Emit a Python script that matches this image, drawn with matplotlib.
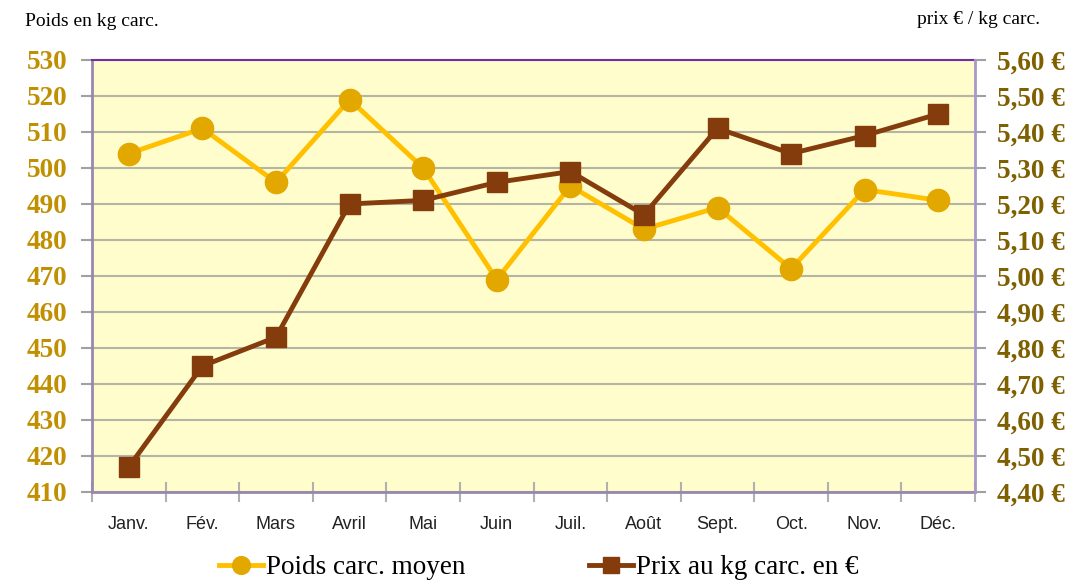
import numpy as np
import matplotlib.pyplot as plt
from matplotlib.ticker import FuncFormatter, MultipleLocator

# data
months = ['Janv.', 'Fév.', 'Mars', 'Avril', 'Mai', 'Juin',
          'Juil.', 'Août', 'Sept.', 'Oct.', 'Nov.', 'Déc.']
poids = [504, 511, 496, 519, 500, 469, 495, 483, 489, 472, 494, 491]
prix = [4.47, 4.75, 4.83, 5.20, 5.21, 5.26, 5.29, 5.17, 5.41, 5.34, 5.39, 5.45]

serif = ['Liberation Serif', 'DejaVu Serif']
narrow = ['Liberation Sans Narrow', 'Liberation Sans', 'DejaVu Sans']

fig = plt.figure(figsize=(10.84, 5.85), dpi=100)
ax = fig.add_axes([0.0849, 0.159, 0.8146, 0.7385])
ax.set_facecolor('#FFFDCC')

x = np.arange(len(months))

# left axis: weight
ax.plot(x, poids, color='#FFC000', lw=3.5, marker='o', ms=16,
        mfc='#E3A800', mec='#E3A800', zorder=3, label='Poids carc. moyen')
ax.set_ylim(410, 530)
ax.set_xlim(-0.5, 11.5)
ax.yaxis.set_major_locator(MultipleLocator(10))
ax.grid(axis='y', color='#B5B5A5', lw=1.5)
ax.set_axisbelow(True)
ax.tick_params(axis='y', direction='out', length=8, width=1.5, color='#A0A0A0',
               labelcolor='#C09000', pad=10)
for t in ax.get_yticklabels():
    t.set_family(serif)
    t.set_fontweight('bold')
    t.set_fontsize(19.5)

# categories with ticks between months
ax.set_xticks(x)
ax.set_xticklabels(months, family=narrow, fontsize=13, color='#222222')
ax.set_xticks(np.arange(-0.5, 12, 1), minor=True)
ax.tick_params(axis='x', which='major', length=0, pad=17)
ax.tick_params(axis='x', which='minor', direction='inout', length=14,
               width=1.5, color='#B0B0B0')

for side in ['left', 'bottom']:
    ax.spines[side].set_color('#9888B0')
    ax.spines[side].set_linewidth(2)
ax.spines['top'].set_color('#7030A0')
ax.spines['top'].set_linewidth(1.5)
ax.spines['right'].set_visible(False)

# right axis: price
ax2 = ax.twinx()
ax2.plot(x, prix, color='#843C0C', lw=3.5, marker='s', ms=14,
         mfc='#843C0C', mec='#843C0C', zorder=3, label='Prix au kg carc. en €')
ax2.set_ylim(4.40, 5.60)
ax2.yaxis.set_major_locator(MultipleLocator(0.1))
ax2.yaxis.set_major_formatter(FuncFormatter(lambda v, p: f'{v:.2f} €'.replace('.', ',')))
ax2.tick_params(axis='y', direction='out', length=8, width=1.5, color='#A0A0A0',
                labelcolor='#7F6000', pad=8)
for t in ax2.get_yticklabels():
    t.set_family(serif)
    t.set_fontweight('bold')
    t.set_fontsize(19.5)
for side in ['left', 'bottom', 'top']:
    ax2.spines[side].set_visible(False)
ax2.spines['right'].set_color('#A898C8')
ax2.spines['right'].set_linewidth(2)

# axis titles
fig.text(25 / 1084, 1 - 22 / 585, 'Poids en kg carc.', family=serif,
         fontsize=14, ha='left', va='center')
fig.text(1040 / 1084, 1 - 20 / 585, 'prix € / kg carc.', family=serif,
         fontsize=14, ha='right', va='center')

# legend
h1, l1 = ax.get_legend_handles_labels()
h2, l2 = ax2.get_legend_handles_labels()
leg = fig.legend(h1 + h2, l1 + l2, loc='center', bbox_to_anchor=(0.497, 1 - 568 / 585),
                 ncol=2, frameon=False, prop={'family': serif, 'size': 19.5},
                 columnspacing=4.6, handlelength=1.6, handletextpad=0.1, markerscale=0.8)

plt.savefig('out.png', dpi=100)
plt.close()
